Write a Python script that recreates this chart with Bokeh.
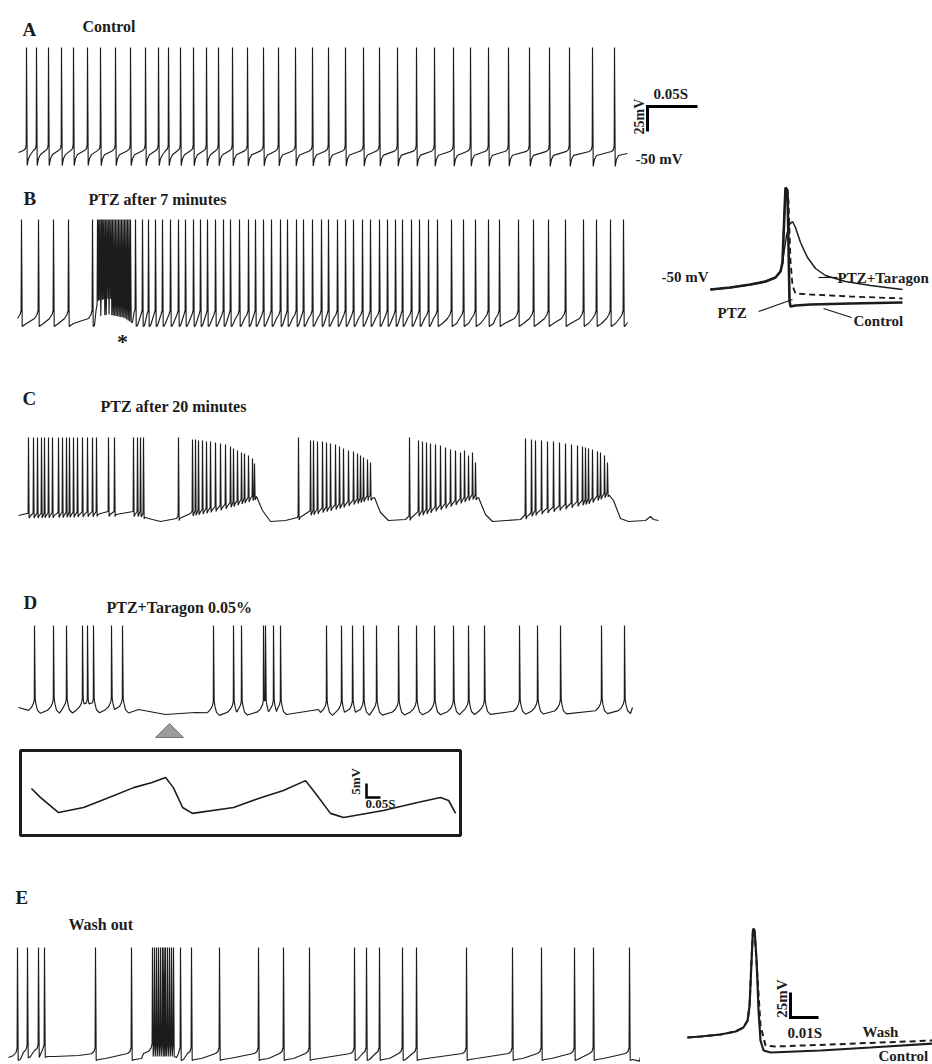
import numpy as np
from bokeh.plotting import figure
from bokeh.models import Range1d, Label, BoxAnnotation
from bokeh.layouts import column, row
from bokeh.embed import file_html
from bokeh.resources import INLINE

# ------------------------------------------------------------------
# DATA  (times in ms, membrane potential in mV)
# ------------------------------------------------------------------
# A - Control
A_spikes = [8, 18, 30, 43, 55, 69, 82, 97, 112, 127, 140, 150, 162, 175, 188, 200,
            214, 229, 245, 260, 277, 294, 310, 327, 345, 361, 379, 398, 416, 435,
            452, 470, 490, 511, 531, 551, 574, 596]
A_peak = 55
A_base_t = [0, 609]
A_base_v = [-50, -51]

# B - PTZ after 7 minutes
B_spikes = [3, 20, 35, 50, 74,
            79, 80.3, 81.6, 83, 84.3, 85.6, 87, 88.4, 89.8, 91.2, 92.6, 94, 95.5, 97,
            98.5, 100, 101.5, 103, 104.5, 106, 107.5, 109, 110.5, 112,
            117, 124, 130, 137, 144, 152, 160, 167, 175, 182, 189, 197, 205, 212, 221,
            230, 237, 245, 253, 262, 269, 278, 285, 294, 303, 310, 319, 327, 335, 344,
            352, 361, 369, 377, 384, 393, 401, 410, 419, 433, 445, 457, 470, 481, 500,
            515, 530, 547, 565, 578, 592, 605]
B_peak = 53
B_base_t = [-1, 76, 80, 90, 105, 113, 118, 609]
B_base_v = [-50, -50, -40, -38, -41, -46, -50, -50]

# B inset - superimposed action potentials
Bi_pre_t = [-7.5, -5.5, -3.5, -2.0, -1.0, -0.5, -0.3, -0.2, 0.0]
Bi_pre_v = [-51, -49, -46, -43, -39, -33, -24, 2, 51]
Bi_ctrl_t = [0.2, 0.4, 0.5, 1.0, 2.5, 6.5, 11.7]
Bi_ctrl_v = [48, -62, -68, -67, -66, -65, -64]
Bi_ptz_t = [0.1, 0.3, 0.5, 0.7, 1.0, 2.5, 6.5, 11.7]
Bi_ptz_v = [51, 38, -22, -47, -55, -56, -58, -60]
Bi_tar_t = [-0.3, 0.1, 0.4, 0.7, 1.0, 1.5, 2.2, 3.0, 4.0, 6.0, 8.5, 11.7]
Bi_tar_v = [-24, 3, 14, 17, 11, -4, -19, -30, -37, -43, -47, -51]

# C - PTZ after 20 minutes
C_spikes = [10, 15, 19, 23, 26, 30, 34, 40, 44, 48, 51, 55, 59, 64, 69, 74, 78, 90, 96,
            115, 119, 122, 125,
            160,
            174, 177, 180, 184, 188, 192, 197, 202, 207, 212, 215, 219, 223, 226, 230, 234, 236,
            280,
            292, 295, 299, 304, 308, 312, 317, 321, 325, 330, 335, 339, 342, 345, 349, 352,
            391,
            400, 404, 408, 412, 417, 422, 427, 432, 437, 442, 446, 450, 454, 457,
            507,
            513, 517, 523, 529, 535, 541, 547, 553, 559, 564, 567, 570, 574, 579, 582, 586, 589]
C_peaks = [30] * 23 + [30] + \
          [28, 28, 27, 27, 26, 26, 25, 24, 23, 21, 19, 17, 15, 14, 12, 9, 4] + [30] + \
          [27, 27, 26, 26, 25, 24, 23, 21, 19, 17, 16, 14, 12, 10, 8, 5] + [30] + \
          [27, 26, 25, 24, 23, 22, 20, 18, 17, 15, 17, 12, 15, 5] + [29] + \
          [28, 27, 27, 26, 26, 25, 24, 23, 22, 21, 20, 19, 18, 16, 15, 12, 5]
C_base_t = [0, 42, 82, 122, 130, 142, 158, 172, 202, 232, 238, 244, 252, 267, 279, 292,
            322, 350, 356, 362, 370, 387, 400, 427, 454, 460, 467, 474, 502, 512, 542,
            572, 590, 595, 602, 610, 627, 632, 635, 640]
C_base_v = [-48, -47, -46, -46, -51, -54, -51, -46, -40, -31, -29, -43, -54, -53, -50, -45,
            -38, -30, -30, -45, -53, -52, -46, -38, -29, -30, -47, -54, -52, -46, -40,
            -33, -26, -33, -51, -54, -53, -49, -52, -53]

# D - PTZ + Taragon 0.05%
D_spikes = [16, 35, 48, 64, 69, 75, 93, 104, 195, 215, 223, 245, 247, 255, 262, 308, 323,
            334, 345, 358, 380, 398, 416, 435, 450, 466, 501, 519, 542, 583, 606]
D_peak = 32
D_base_t = [0, 108, 120, 147, 177, 190, 268, 300, 614]
D_base_v = [-50, -49, -52, -57, -55, -52, -51, -52, -50]
D_marker_t = 151          # sweep region expanded in the inset

# D inset - subthreshold oscillation (expanded)
Di_t = [39, 71, 136, 225, 314, 404, 470, 518, 546, 579, 614, 761, 850, 939, 1018, 1054,
        1107, 1154, 1296, 1418, 1500, 1529, 1554]
Di_v = [-45.7, -48.9, -54.3, -52.5, -49.0, -45.4, -43.6, -41.8, -45.4, -52.5, -54.6,
        -52.5, -49.3, -46.4, -42.9, -47.5, -54.6, -56.1, -53.6, -50.7, -48.9, -50.0, -54.6]

# E - Wash out
E_spikes = [-1, 9, 20, 26, 77, 113,
            134, 136, 138, 140, 142, 144, 145.5, 147, 149, 151, 153, 155,
            162, 173, 201, 240, 265, 291, 336, 348, 361, 384, 398, 448, 494, 523, 556,
            575, 611]
E_peak = 56
E_base_t = [-10, 0, 12, 30, 60, 75, 125, 134, 156, 160, 615, 622]
E_base_v = [-54, -50, -47, -47, -52, -50, -50, -46, -46, -50, -50, -53]

# E inset - wash vs control action potential
Ei_pre_t = [-23.6, -18.9, -11.8, -6.4, -3.6, -2.1, -1.4, -0.7, -0.2, 0.0]
Ei_pre_v = [-50, -49, -47, -44, -40, -33, -18, 27, 57, 59]
Ei_ctrl_t = [0.4, 1.1, 1.8, 2.5, 3.6, 6.1, 23.9, 41.8, 64.0]
Ei_ctrl_v = [57, 27, -23, -53, -63, -65, -63, -60, -56]
Ei_wash_t = [0.5, 1.4, 2.5, 4.3, 7.9, 27.5, 45.4, 64.0]
Ei_wash_v = [52, 12, -38, -58, -59, -57, -55, -53]

# spike waveform templates (offset ms, offset mV from baseline; None = peak)
A_tmpl = ([-3, -1, -0.3, 0, 0.7, 2, 4], [2, 4, 8, None, -13, -6, -2])
B_tmpl = ([-4, -1.5, -0.4, 0, 0.7, 2, 5], [4, 8, 12, None, -4, -3, -1])
C_tmpl = ([-0.4, 0, 0.6, 1.5], [2, None, -3, -1])
D_tmpl = ([-6, -3, -1, -0.2, 0, 0.7, 1.5, 3, 6], [-3, 0, 4, 8, None, 8, 3, -3, -6])
E_tmpl = ([-4, -1.5, -0.4, 0, 0.7, 3, 10], [0, 2, 6, None, -7, -6, -5])

# scale bar sizes
A_bar_ms, A_bar_mv = 50, 25
Di_bar_ms, Di_bar_mv = 50, 5
Ei_bar_ms, Ei_bar_mv = 10, 25

# ------------------------------------------------------------------
FONT = "Liberation Serif"
INK = "#1c1c1c"


def spike_trace(spikes, peaks, base_t, base_v, tmpl, t0, t1):
    spikes = np.asarray(spikes, float)
    peaks = np.broadcast_to(np.asarray(peaks, float), spikes.shape)
    tdt, tdv = tmpl
    base = lambda t: float(np.interp(t, base_t, base_v))
    pts, wins = [], []
    n = len(spikes)
    for i, ts in enumerate(spikes):
        gp = ts - spikes[i - 1] if i > 0 else 1e9
        gn = spikes[i + 1] - ts if i < n - 1 else 1e9
        lo, hi = ts, ts
        for dt, dv in zip(tdt, tdv):
            if dt < 0 and -dt >= 0.45 * gp:
                continue
            if dt > 0 and dt >= 0.5 * gn:
                continue
            t = ts + dt
            if t < t0 or t > t1:
                continue
            v = peaks[i] if dv is None else base(t) + dv
            pts.append((t, v))
            lo, hi = min(lo, t), max(hi, t)
        wins.append((lo, hi))
    for kt in [t0] + list(base_t) + [t1]:
        if kt < t0 or kt > t1:
            continue
        if any(lo - 0.05 <= kt <= hi + 0.05 for lo, hi in wins):
            continue
        pts.append((kt, base(kt)))
    pts.sort(key=lambda q: q[0])
    return [q[0] for q in pts], [q[1] for q in pts]


class Panel:
    def __init__(self, X0, Y0, w, h, xo, kx, yo, vo, ky):
        self.xo, self.kx, self.yo, self.vo, self.ky = xo, kx, yo, vo, ky
        xr = ((X0 - xo) / kx, (X0 + w - xo) / kx)
        yr = (vo + (yo - (Y0 + h)) / ky, vo + (yo - Y0) / ky)
        p = figure(width=w, height=h, x_range=Range1d(*xr), y_range=Range1d(*yr),
                   output_backend="svg", toolbar_location=None, min_border=0,
                   x_axis_location=None, y_axis_location=None,
                   outline_line_color=None, background_fill_color="white",
                   border_fill_color="white")
        p.grid.visible = False
        self.p = p

    def t(self, X):
        return (X - self.xo) / self.kx

    def v(self, Y):
        return self.vo + (self.yo - Y) / self.ky

    def text(self, X, Y, s, size=15, align="left", angle=0.0):
        self.p.add_layout(Label(x=self.t(X), y=self.v(Y), text=s, text_font=FONT,
                                text_font_size=f"{size}px", text_font_style="bold",
                                text_color=INK, text_align=align, text_baseline="middle",
                                angle=angle))

    def seg(self, X1, Y1, X2, Y2, width=1.2):
        self.p.line([self.t(X1), self.t(X2)], [self.v(Y1), self.v(Y2)],
                    line_color=INK, line_width=width)


TW = dict(line_color=INK, line_width=1.15)

# ---------------- A ----------------
pa = Panel(0, 0, 932, 178, 18, 1, 152, -50, 1)
xs, ys = spike_trace(A_spikes, A_peak, A_base_t, A_base_v, A_tmpl, 0, 609)
pa.p.line(xs, ys, **TW)
pa.text(22, 29, "A", 19)
pa.text(82, 26, "Control", 16)
t0, v0 = pa.t(647), pa.v(106)
pa.p.line([t0 + A_bar_ms, t0, t0], [v0, v0, v0 - A_bar_mv], line_color="black",
          line_width=3, line_join="miter")
pa.text(653, 93, "0.05S", 15)
pa.text(639, 116, "25mV", 14, align="center", angle=np.pi / 2)
pa.text(635, 158, "-50 mV", 15)

# ---------------- B ----------------
pb = Panel(0, 178, 640, 182, 18, 1, 322, -50, 1)
xs, ys = spike_trace(B_spikes, B_peak, B_base_t, B_base_v, B_tmpl, -1, 609)
pb.p.line(xs, ys, **TW)
pb.text(23, 198, "B", 19)
pb.text(88, 199, "PTZ after 7 minutes", 16)
pb.text(122, 341, "*", 22, align="center")

pbi = Panel(640, 178, 292, 182, 785, 10, 288, -50, 1)
pbi.p.line(Bi_pre_t + Bi_ctrl_t, Bi_pre_v + Bi_ctrl_v, line_color=INK, line_width=2.6)
pbi.p.line(Bi_pre_t + Bi_ptz_t, Bi_pre_v + Bi_ptz_v, line_color=INK, line_width=1.8,
           line_dash="6 4")
pbi.p.line(Bi_pre_t[:-3] + Bi_tar_t, Bi_pre_v[:-3] + Bi_tar_v, line_color=INK,
           line_width=1.5)
pbi.text(708, 276, "-50 mV", 15, align="right")
pbi.text(837, 277, "PTZ+Taragon", 15)
pbi.seg(818, 277, 837, 277)
pbi.text(717, 312, "PTZ", 15)
pbi.seg(758, 311, 792, 299)
pbi.text(853, 320, "Control", 15)
pbi.seg(823, 308, 851, 317)

# ---------------- C ----------------
pc = Panel(0, 360, 932, 185, 18, 1, 517, -50, 1)
xs, ys = spike_trace(C_spikes, C_peaks, C_base_t, C_base_v, C_tmpl, 0, 640)
pc.p.line(xs, ys, **TW)
pc.text(22, 398, "C", 19)
pc.text(100, 406, "PTZ after 20 minutes", 16)

# ---------------- D ----------------
pd = Panel(0, 545, 932, 195, 18, 1, 707, -50, 1)
xs, ys = spike_trace(D_spikes, D_peak, D_base_t, D_base_v, D_tmpl, 0, 614)
pd.p.line(xs, ys, **TW)
pd.text(23, 602, "D", 19)
pd.text(106, 607, "PTZ+Taragon 0.05%", 16)
vb, va = pd.v(737), pd.v(723)
pd.p.patch([D_marker_t - 14, D_marker_t, D_marker_t + 14], [vb, va, vb],
           fill_color="#9c9c9c", line_color="#7a7a7a", line_width=1)

pdi = Panel(0, 740, 932, 105, 20, 0.28, 800, -50, 2.8)
pdi.p.add_layout(BoxAnnotation(left=pdi.t(20), right=pdi.t(460), top=pdi.v(750),
                               bottom=pdi.v(835), fill_alpha=0, line_color=INK,
                               line_alpha=1.0, line_width=3))
pdi.p.line(Di_t, Di_v, line_color=INK, line_width=1.6)
t0, v0 = pdi.t(366), pdi.v(797)
pdi.p.line([t0, t0, t0 + Di_bar_ms], [v0 + Di_bar_mv, v0, v0], line_color="black",
           line_width=2.5, line_join="miter")
pdi.text(355, 781, "5mV", 13, align="center", angle=np.pi / 2)
pdi.text(365, 803, "0.05S", 13)

# ---------------- E ----------------
pe = Panel(0, 845, 640, 219, 18, 1, 1053, -50, 1)
xs, ys = spike_trace(E_spikes, E_peak, E_base_t, E_base_v, E_tmpl, -10, 622)
pe.p.line(xs, ys, **TW)
pe.text(15, 897, "E", 19)
pe.text(68, 924, "Wash out", 16)

pei = Panel(640, 845, 292, 219, 753, 2.8, 1037, -50, 1)
pei.p.line(Ei_pre_t + Ei_ctrl_t, Ei_pre_v + Ei_ctrl_v, line_color=INK, line_width=2.2)
pei.p.line(Ei_pre_t + Ei_wash_t, Ei_pre_v + Ei_wash_v, line_color=INK, line_width=2.0,
           line_dash="6 4")
t0, v0 = pei.t(790), pei.v(1017)
pei.p.line([t0, t0, t0 + Ei_bar_ms], [v0 + Ei_bar_mv, v0, v0], line_color="black",
           line_width=3, line_join="miter")
pei.text(781, 998, "25mV", 15, align="center", angle=np.pi / 2)
pei.text(787, 1032, "0.01S", 15)
pei.text(862, 1031, "Wash", 15)
pei.text(878, 1055, "Control", 15)

layout = column(pa.p, row(pb.p, pbi.p), pc.p, pd.p, pdi.p, row(pe.p, pei.p))
open("out.html", "w").write(file_html(layout, INLINE))
